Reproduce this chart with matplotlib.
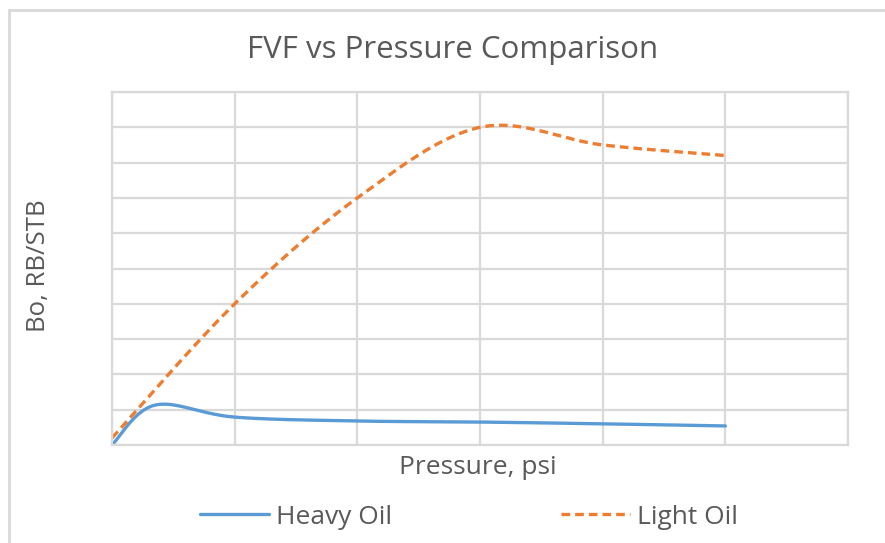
import matplotlib.pyplot as plt
import matplotlib.patches as mpatches
import numpy as np

x_heavy = [0, 0.35, 1, 2, 3, 4, 5]
bo_heavy = [0.0, 1.13, 0.79, 0.68, 0.65, 0.60, 0.54]
x_light = [0, 1, 2, 3, 4, 5]
bo_light = [0.2, 4.0, 7.0, 9.0, 8.5, 8.2]

titulo = "FVF vs Pressure Comparison"
etiqueta_x = "Pressure, psi"
etiqueta_y = "Bo, RB/STB"
series = ["Heavy Oil", "Light Oil"]


def suavizar(xs, ys, n=40):
    # curva tipo Excel: bezier cubica con tangentes catmull-rom
    xs = np.asarray(xs, float)
    ys = np.asarray(ys, float)
    px = np.concatenate([[xs[0]], xs, [xs[-1]]])
    py = np.concatenate([[ys[0]], ys, [ys[-1]]])
    ox, oy = [], []
    t = np.linspace(0, 1, n)
    for i in range(1, len(px) - 2):
        p0 = np.array([px[i], py[i]])
        p3 = np.array([px[i + 1], py[i + 1]])
        p1 = p0 + (np.array([px[i + 1], py[i + 1]]) - np.array([px[i - 1], py[i - 1]])) / 6
        p2 = p3 - (np.array([px[i + 2], py[i + 2]]) - np.array([px[i], py[i]])) / 6
        b = ((1 - t) ** 3)[:, None] * p0 + (3 * (1 - t) ** 2 * t)[:, None] * p1 \
            + (3 * (1 - t) * t ** 2)[:, None] * p2 + (t ** 3)[:, None] * p3
        ox.extend(b[:, 0])
        oy.extend(b[:, 1])
    return ox, oy


plt.rcParams['font.family'] = ['Open Sans', 'DejaVu Sans']
gris = '#595959'

fig = plt.figure(figsize=(8.85, 5.43), dpi=100)
ax = fig.add_axes([112 / 885, 98 / 543, 736 / 885, 353 / 543])

# borde del area del grafico (solo se ven el lado izquierdo y el superior)
fig.patches.append(mpatches.Rectangle((9 / 885, -0.2), 1.2, 0.2 + 533 / 543, transform=fig.transFigure,
                                      fill=False, edgecolor='#d9d9d9', linewidth=2))

hx, hy = suavizar(x_heavy, bo_heavy)
lx, ly = suavizar(x_light, bo_light)
ax.plot(hx, hy, color='#5b9bd5', linewidth=2.4, label=series[0], solid_capstyle='round')
ax.plot(lx, ly, color='#ed7d31', linewidth=2.4, linestyle=(0, (2.6, 1.5)), label=series[1])

ax.set_xlim(0, 6)
ax.set_ylim(0, 10)
ax.set_xticks(range(7))
ax.set_yticks(range(11))
ax.tick_params(length=0, labelbottom=False, labelleft=False)
ax.grid(True, color='#d9d9d9', linewidth=1.6)
ax.set_axisbelow(True)
for s in ax.spines.values():
    s.set_color('#d9d9d9')
    s.set_linewidth(1.6)

fig.text(453 / 885, 1 - 50 / 543, titulo, ha='center', va='center', fontsize=22.5, color=gris)
fig.text(478 / 885, 1 - 468 / 543, etiqueta_x, ha='center', va='center', fontsize=19, color=gris)
fig.text(38 / 885, 1 - 266 / 543, etiqueta_y, ha='center', va='center', fontsize=18.5,
         color=gris, rotation=90)

leg = fig.legend(loc='center', bbox_to_anchor=(469 / 885, 1 - 517 / 543), ncol=2, frameon=False,
                 fontsize=19, handlelength=2.6, columnspacing=6.4, handletextpad=0.27,
                 borderpad=0, borderaxespad=0)
for t in leg.get_texts():
    t.set_color(gris)

fig.savefig('out.png', dpi=100)
